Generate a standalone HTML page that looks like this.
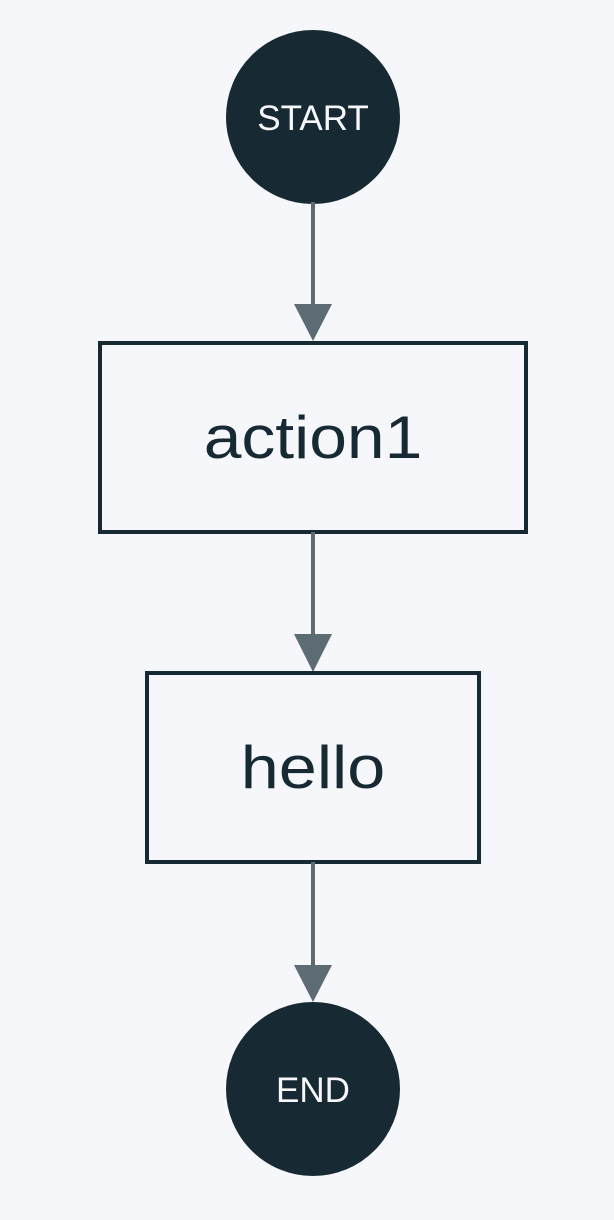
<!DOCTYPE html>
<html><head><meta charset="utf-8"><style>
html,body{margin:0;padding:0;background:#f5f7fb;}
svg{display:block;}
text{font-family:"Liberation Sans",sans-serif;}
</style></head><body>
<svg width="614" height="1220" viewBox="0 0 614 1220" xmlns="http://www.w3.org/2000/svg">
<rect width="614" height="1220" fill="#f5f7fb"/>
<circle cx="313" cy="117" r="87" fill="#172a33"/>
<text x="313" y="130" text-anchor="middle" font-size="35" fill="#f5f7fb">START</text>
<line x1="313" y1="202" x2="313" y2="308" stroke="#5d6b75" stroke-width="4"/>
<polygon points="294,304 332,304 313,341" fill="#5d6b75"/>
<rect x="100" y="343" width="426" height="189" fill="none" stroke="#172a33" stroke-width="4"/>
<text transform="translate(313,458) scale(1.13,1)" text-anchor="middle" font-size="60" fill="#172a33">action1</text>
<line x1="313" y1="532" x2="313" y2="638" stroke="#5d6b75" stroke-width="4"/>
<polygon points="294,634 332,634 313,672" fill="#5d6b75"/>
<rect x="147" y="673" width="332" height="189" fill="none" stroke="#172a33" stroke-width="4"/>
<text transform="translate(313,788) scale(1.14,1)" text-anchor="middle" font-size="60" fill="#172a33">hello</text>
<line x1="313" y1="862" x2="313" y2="968" stroke="#5d6b75" stroke-width="4"/>
<polygon points="294,965 332,965 313,1002" fill="#5d6b75"/>
<circle cx="313" cy="1089" r="87" fill="#172a33"/>
<text x="313" y="1102" text-anchor="middle" font-size="35" fill="#f5f7fb">END</text>
</svg>
</body></html>
